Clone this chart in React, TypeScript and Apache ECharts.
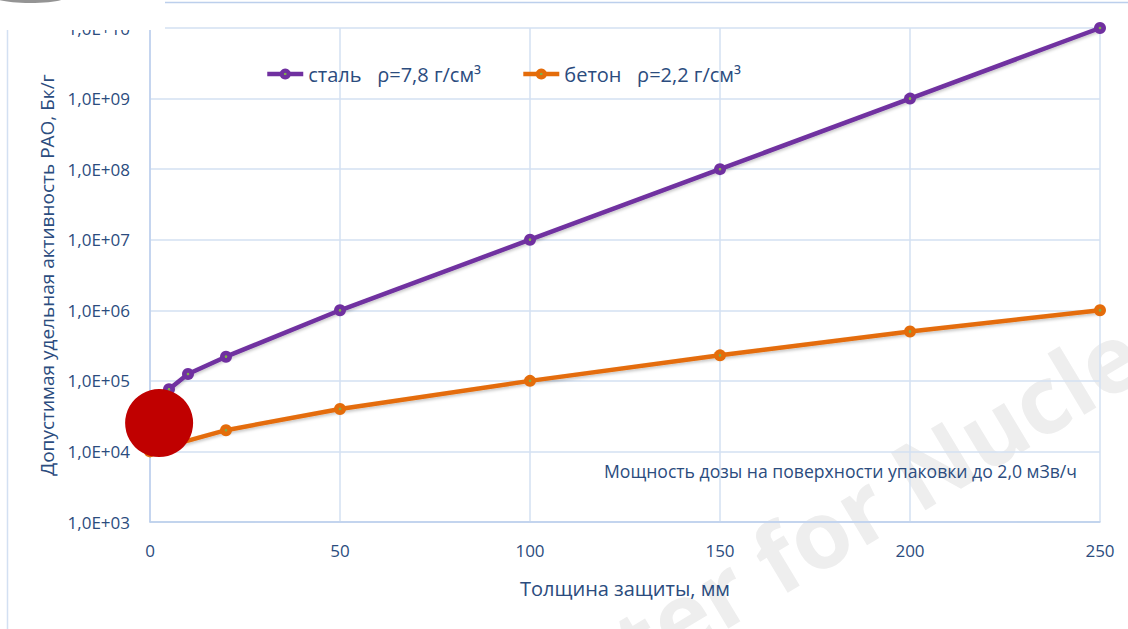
import React, { useEffect, useRef } from "react";
import * as echarts from "echarts";

// ---- data ----
const thicknessSteel = [0, 5, 10, 20, 50, 100, 150, 200, 250];
const activitySteel = [5.0e4, 7.6e4, 1.25e5, 2.2e5, 1.0e6, 1.0e7, 1.0e8, 1.0e9, 1.0e10];
const thicknessConcrete = [0, 5, 20, 50, 100, 150, 200, 250];
const activityConcrete = [1.0e4, 1.2e4, 2.0e4, 4.0e4, 1.0e5, 2.3e5, 5.0e5, 1.0e6];
const seriesNames = ["сталь   ρ=7,8 г/см³", "бетон   ρ=2,2 г/см³"];
const xTickValues = [0, 50, 100, 150, 200, 250];
const yTickExponents = [3, 4, 5, 6, 7, 8, 9, 10];
const highlightPoint = [[2.4, 2.52e4]];
const xTitle = "Толщина защиты, мм";
const yTitle = "Допустимая удельная активность РАО, Бк/г";
const note = "Мощность дозы на поверхности упаковки до 2,0 мЗв/ч";
const watermark = "ter for Nucle";

const FONT = "'Open Sans', 'Noto Sans', sans-serif";
const TEXT = "#2b4c7e";
const PURPLE = "#7030a0";
const ORANGE = "#e46c0a";
const GRID = "#d3e0f2";
const AXIS = "#bccfec";

function markerFill(c: string) {
  return new echarts.graphic.RadialGradient(0.5, 0.5, 0.5, [
    { offset: 0, color: "#7fae4a" },
    { offset: 0.18, color: "#7fae4a" },
    { offset: 0.28, color: c },
    { offset: 1, color: c },
  ]);
}

export default function App() {
  const ref = useRef<HTMLDivElement>(null);
  useEffect(() => {
    document.body.style.margin = "0";
    const chart = echarts.init(ref.current!, null, { renderer: "svg" });
    const steel = thicknessSteel.map((x, i) => [x, activitySteel[i]]);
    const concrete = thicknessConcrete.map((x, i) => [x, activityConcrete[i]]);
    const yMin = Math.pow(10, yTickExponents[0]);
    const yMax = Math.pow(10, yTickExponents[yTickExponents.length - 1]);
    const rot = (31 * Math.PI) / 180;
    const shadow = { shadowBlur: 3, shadowColor: "rgba(0,0,0,0.22)", shadowOffsetY: 2 };
    chart.setOption({
      animation: false,
      backgroundColor: "#ffffff",
      textStyle: { fontFamily: FONT },
      grid: { left: 150, right: 28, top: 28, bottom: 107, containLabel: false, outerBoundsMode: "none" },
      legend: {
        data: seriesNames,
        left: 260,
        top: 59,
        itemWidth: 36,
        itemHeight: 14,
        itemGap: 40,
        lineStyle: { width: 4.5 },
        textStyle: { fontFamily: FONT, fontSize: 20, color: TEXT },
      },
      xAxis: {
        type: "value",
        z: 2,
        min: xTickValues[0],
        max: xTickValues[xTickValues.length - 1],
        interval: xTickValues[1] - xTickValues[0],
        name: xTitle,
        nameLocation: "middle",
        nameGap: 56,
        nameTextStyle: { fontFamily: FONT, fontSize: 20, color: TEXT },
        axisLine: { show: true, lineStyle: { color: AXIS, width: 1.5 } },
        axisTick: { show: false },
        axisLabel: { margin: 20, fontFamily: FONT, fontSize: 17, color: TEXT },
        splitLine: { show: true, lineStyle: { color: GRID, width: 1.5 } },
      },
      yAxis: {
        type: "log",
        z: 2,
        logBase: 10,
        min: yMin,
        max: yMax,
        name: yTitle,
        nameLocation: "middle",
        nameGap: 88,
        nameTextStyle: { fontFamily: FONT, fontSize: 19, color: TEXT },
        axisLine: { show: true, lineStyle: { color: AXIS, width: 1.5 } },
        axisTick: { show: false },
        axisLabel: {
          margin: 20,
          fontFamily: FONT,
          fontSize: 17,
          color: TEXT,
          formatter: (v: number) => {
            const e = Math.round(Math.log10(v));
            return "1,0E+" + String(e).padStart(2, "0");
          },
        },
        splitLine: { show: true, lineStyle: { color: GRID, width: 1.5 } },
      },
      series: [
        {
          name: seriesNames[0],
          type: "line",
          data: steel,
          clip: false,
          symbol: "circle",
          symbolSize: 12,
          lineStyle: { color: PURPLE, width: 4.5, ...shadow },
          itemStyle: { color: markerFill(PURPLE), borderWidth: 0 },
          z: 3,
        },
        {
          name: seriesNames[1],
          type: "line",
          data: concrete,
          clip: false,
          symbol: "circle",
          symbolSize: 12,
          lineStyle: { color: ORANGE, width: 4.5, ...shadow },
          itemStyle: { color: markerFill(ORANGE), borderWidth: 0 },
          z: 3,
        },
        {
          name: "marker",
          type: "scatter",
          data: highlightPoint,
          symbol: "circle",
          symbolSize: 68,
          silent: true,
          itemStyle: { color: "#c00000", opacity: 1 },
          z: 10,
        },
      ],
      graphic: [
        {
          type: "text",
          z: 1,
          silent: true,
          x: 621,
          y: 651,
          rotation: rot,
          style: {
            text: watermark,
            fontFamily: FONT,
            fontWeight: "bold",
            fontSize: 94,
            fill: "#eeeeee",
            textVerticalAlign: "middle",
          },
        },
        {
          type: "text",
          z: 5,
          x: 604,
          y: 471,
          style: {
            text: note,
            fontFamily: FONT,
            fontSize: 17.6,
            fill: TEXT,
            textVerticalAlign: "middle",
          },
        },
        {
          type: "rect",
          z: 50,
          silent: true,
          shape: { x: 0, y: 0, width: 165, height: 30 },
          style: { fill: "#ffffff" },
        },
        {
          type: "line",
          z: 51,
          silent: true,
          shape: { x1: 165, y1: 2.5, x2: 1128, y2: 2.5 },
          style: { stroke: AXIS, lineWidth: 1.5 },
        },
        {
          type: "line",
          z: 51,
          silent: true,
          shape: { x1: 7.5, y1: 30, x2: 7.5, y2: 629 },
          style: { stroke: GRID, lineWidth: 1.5 },
        },
        {
          type: "ellipse",
          z: 52,
          silent: true,
          shape: { cx: 30, cy: -3, rx: 36, ry: 6 },
          style: { fill: "#666666", opacity: 0.7 },
        },
      ],
    });
    return () => chart.dispose();
  }, []);
  return <div ref={ref} style={{ width: 1128, height: 629 }} />;
}
